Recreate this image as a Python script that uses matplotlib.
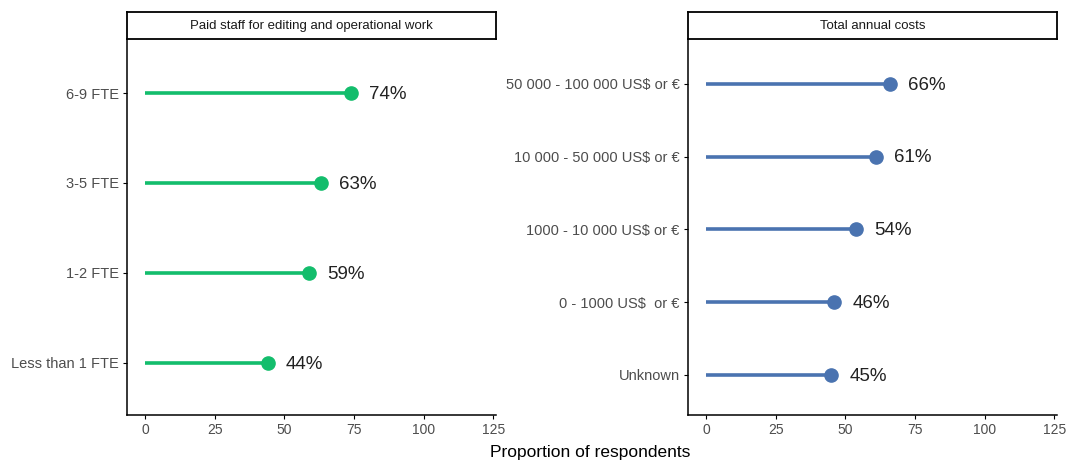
import matplotlib
matplotlib.use("Agg")
import matplotlib.pyplot as plt

plt.rcParams['font.family'] = ['Liberation Sans', 'DejaVu Sans']

staff_cats = ["Less than 1 FTE", "1-2 FTE", "3-5 FTE", "6-9 FTE"]
staff_vals = [44, 59, 63, 74]
cost_cats = ["Unknown", "0 - 1000 US$  or €", "1000 - 10 000 US$ or €",
             "10 000 - 50 000 US$ or €", "50 000 - 100 000 US$ or €"]
cost_vals = [45, 46, 54, 61, 66]
xticks = [0, 25, 50, 75, 100, 125]
titles = ["Paid staff for editing and operational work", "Total annual costs"]
colors = ["#13BD6C", "#4A73B0"]

W, H = 1075, 461
fig = plt.figure(figsize=(W / 100, H / 100), dpi=100)

def fx(px):
    return px / W

def fy(py):
    return 1 - py / H

panels = [
    (127, 496, staff_cats, staff_vals, titles[0], colors[0], (0.42, 4.59)),
    (688, 1057, cost_cats, cost_vals, titles[1], colors[1], (0.45, 5.6)),
]
for (x0, x1, cats, vals, title, col, yl) in panels:
    ax = fig.add_axes([fx(x0), fy(415), fx(x1 - x0), fy(40) - fy(415)])
    ys = list(range(1, len(cats) + 1))
    ax.hlines(ys, 0, vals, color=col, lw=2.6)
    ax.plot(vals, ys, 'o', color=col, ms=9.5)
    for v, y in zip(vals, ys):
        ax.text(v + 6.5, y - 0.02, f"{v}%", ha='left', va='center', fontsize=13.5, color='#222222')
    ax.set_xlim(-6.5, 126)
    ax.set_ylim(*yl)
    ax.set_xticks(xticks)
    ax.set_yticks(ys)
    ax.set_yticklabels(cats)
    for s in ['top', 'right']:
        ax.spines[s].set_visible(False)
    for s in ['left', 'bottom']:
        ax.spines[s].set_linewidth(1.1)
        ax.spines[s].set_color('black')
    ax.tick_params(axis='both', length=3, width=0.8, color='black',
                   labelcolor='#4D4D4D', pad=3)
    ax.tick_params(axis='y', labelsize=10.5)
    ax.tick_params(axis='x', labelsize=10)
    # strip
    sax = fig.add_axes([fx(x0), fy(39), fx(x1 - x0), fy(12) - fy(39)])
    sax.set_xticks([])
    sax.set_yticks([])
    for s in sax.spines.values():
        s.set_linewidth(1.3)
        s.set_color('black')
    sax.text(0.5, 0.5, title, ha='center', va='center', fontsize=9.5,
             color='#1A1A1A', transform=sax.transAxes)

fig.text(fx(590), fy(452), "Proportion of respondents", ha='center', va='center',
         fontsize=12.5, color='black')

fig.savefig("out.png", dpi=100)
